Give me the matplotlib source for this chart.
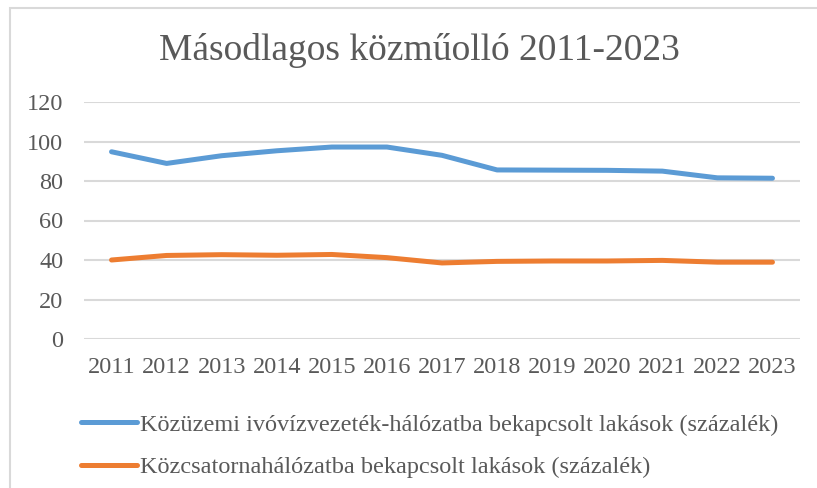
import matplotlib.pyplot as plt
from matplotlib.patches import Rectangle

plt.rcParams['font.family'] = ['Liberation Serif', 'DejaVu Serif']

# Adatok
evek = ['2011', '2012', '2013', '2014', '2015', '2016', '2017',
        '2018', '2019', '2020', '2021', '2022', '2023']
ivoviz = [94.8, 88.9, 92.8, 95.3, 97.2, 97.2, 93.0, 85.6, 85.5, 85.4, 85.0, 81.6, 81.4]
csatorna = [40.0, 42.3, 42.7, 42.4, 42.8, 41.2, 38.5, 39.3, 39.5, 39.5, 39.8, 38.9, 38.9]
nev_ivoviz = 'Közüzemi ivóvízvezeték-hálózatba bekapcsolt lakások (százalék)'
nev_csatorna = 'Közcsatornahálózatba bekapcsolt lakások (százalék)'

szoveg = '#595959'

fig = plt.figure(figsize=(8.17, 4.88), dpi=100)
ax = fig.add_axes([84 / 817, 1 - 339 / 488, 716 / 817, 237 / 488])

x = range(len(evek))
ax.plot(x, ivoviz, color='#5B9BD5', lw=3.6, solid_capstyle='round', label=nev_ivoviz)
ax.plot(x, csatorna, color='#ED7D31', lw=3.6, solid_capstyle='round', label=nev_csatorna)

ax.set_xlim(-0.5, len(evek) - 0.5)
ax.set_ylim(0, 120)
ax.set_yticks(range(0, 121, 20))
ax.set_xticks(list(x))
ax.set_xticklabels(evek)
ax.tick_params(length=0, labelsize=17.5, colors=szoveg)
ax.tick_params(axis='y', pad=15)
ax.tick_params(axis='x', pad=13)
ax.grid(axis='y', color='#D9D9D9', lw=1.5)
ax.set_axisbelow(True)
for s in ax.spines.values():
    s.set_visible(False)

fig.text(419 / 817, 1 - 51 / 488, 'Másodlagos közműolló 2011-2023', ha='center', va='center',
         fontsize=27, color=szoveg)

fig.legend(loc='upper left', bbox_to_anchor=(59 / 817, 1 - 392 / 488), frameon=False,
           fontsize=17.5, labelcolor=szoveg, handlelength=2.3, handletextpad=0.12,
           labelspacing=0.83)

# keret
fig.patches.append(Rectangle((10 / 817, -0.1), 1.2, 1.1 - 8 / 488, transform=fig.transFigure,
                             fill=False, edgecolor='#D9D9D9', lw=1.5))

fig.savefig('out.png', dpi=100)
